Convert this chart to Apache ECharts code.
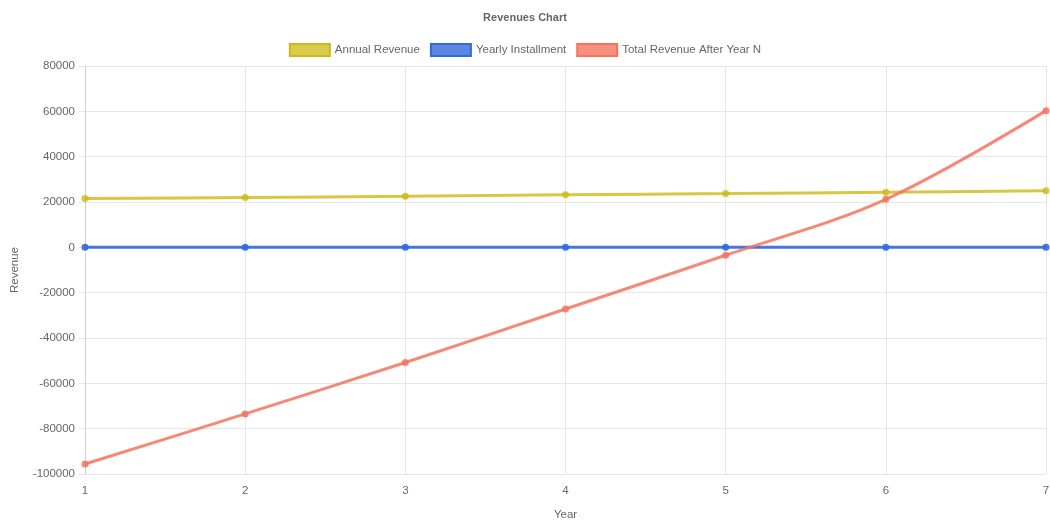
<!DOCTYPE html>
<html>
<head>
<meta charset="utf-8">
<script src="https://cdn.jsdelivr.net/npm/echarts@6/dist/echarts.min.js"></script>
<style>
  html, body { margin: 0; padding: 0; background: #fff; }
  #chart { width: 1050px; height: 523px; }
</style>
</head>
<body>
<div id="chart"></div>
<script>
// Years on the horizontal axis
const years = ['1', '2', '3', '4', '5', '6', '7'];

// Revenue series per year
const annualRevenue = [21500, 22000, 22500, 23200, 23700, 24300, 25000];
const yearlyInstallment = [0, 0, 0, 0, 0, 0, 0];
const totalRevenueAfterYearN = [-95600, -73500, -50800, -27200, -3500, 21200, 60300];

const FONT = '"Liberation Sans", Arial, Helvetica, sans-serif';
const TEXT = '#666';
const GRID = '#e6e6e6';

function lineSeries(name, data, color) {
  return {
    name: name,
    type: 'line',
    data: data,
    smooth: 0.35,
    symbol: 'circle',
    symbolSize: 7,
    lineStyle: { width: 3, color: color },
    itemStyle: { color: color, borderColor: color, borderWidth: 0 },
    emphasis: { disabled: true }
  };
}

const chart = echarts.init(document.getElementById('chart'), null, { renderer: 'canvas' });
chart.setOption({
  animation: false,
  backgroundColor: '#fff',
  textStyle: { fontFamily: FONT },
  title: {
    text: 'Revenues Chart',
    left: 'center',
    top: 7,
    textStyle: { fontSize: 11, fontWeight: 'bold', color: TEXT, fontFamily: FONT }
  },
  legend: {
    top: 38,
    left: 'center',
    itemWidth: 40,
    itemHeight: 12,
    itemGap: 10,
    icon: 'rect',
    textStyle: { fontSize: 11.5, color: TEXT, fontFamily: FONT },
    data: [
      { name: 'Annual Revenue', itemStyle: { color: 'rgba(205,185,20,0.75)', borderColor: 'rgb(205,185,20)', borderWidth: 2 } },
      { name: 'Yearly Installment', itemStyle: { color: 'rgba(50,105,220,0.8)', borderColor: 'rgb(50,105,220)', borderWidth: 2 } },
      { name: 'Total Revenue After Year N', itemStyle: { color: 'rgba(245,115,95,0.8)', borderColor: 'rgb(245,115,95)', borderWidth: 2 } }
    ]
  },
  grid: { left: 85, right: 4, top: 66, bottom: 49, containLabel: false, outerBoundsMode: 'none' },
  xAxis: {
    type: 'category',
    data: years,
    boundaryGap: false,
    name: 'Year',
    nameLocation: 'middle',
    nameGap: 35,
    nameTextStyle: { fontSize: 11.5, color: TEXT, fontFamily: FONT },
    axisLine: { lineStyle: { color: '#cfcfcf', width: 1 } },
    axisTick: { show: true, length: 6, lineStyle: { color: GRID } },
    axisLabel: { fontSize: 11.5, color: TEXT, margin: 11, fontFamily: FONT },
    splitLine: { show: true, lineStyle: { color: GRID, width: 1 } }
  },
  yAxis: {
    type: 'value',
    min: -100000,
    max: 80000,
    interval: 20000,
    name: 'Revenue',
    nameLocation: 'middle',
    nameGap: 64,
    nameTextStyle: { fontSize: 11.5, color: TEXT, fontFamily: FONT },
    axisLine: { show: true, lineStyle: { color: '#cfcfcf', width: 1 } },
    axisTick: { show: true, length: 6, lineStyle: { color: GRID } },
    axisLabel: { fontSize: 11.5, color: TEXT, margin: 10, fontFamily: FONT, formatter: function (v) { return String(v); } },
    splitLine: { show: true, lineStyle: { color: GRID, width: 1 } }
  },
  series: [
    lineSeries('Annual Revenue', annualRevenue, 'rgba(205,185,20,0.8)'),
    lineSeries('Yearly Installment', yearlyInstallment, 'rgba(50,105,220,0.9)'),
    lineSeries('Total Revenue After Year N', totalRevenueAfterYearN, 'rgba(245,115,95,0.85)')
  ]
});
</script>
</body>
</html>
